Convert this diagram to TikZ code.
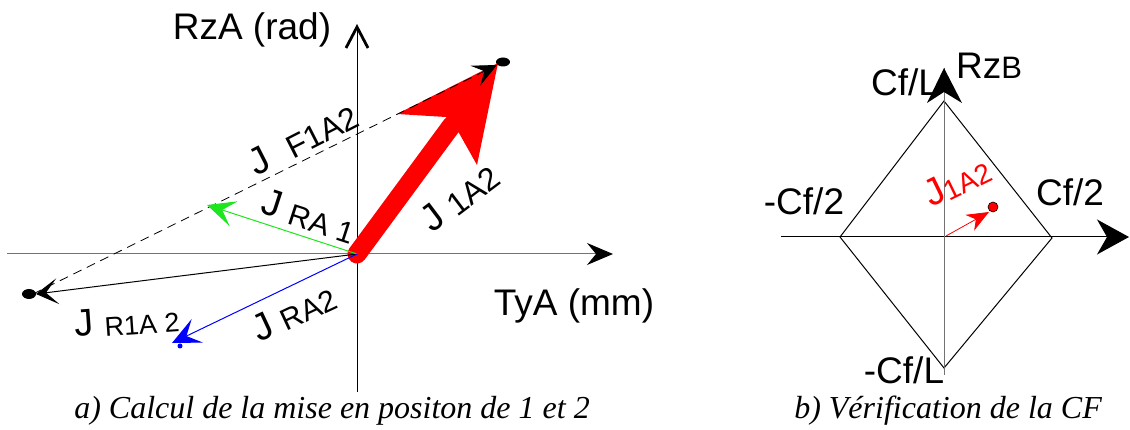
\documentclass[tikz,border=0pt]{standalone}
\usepackage{fontspec}
\setmainfont{Liberation Serif}
\newfontfamily\arialf{Liberation Sans}
\usetikzlibrary{arrows.meta}
\newcommand\jsub[2][30]{\raisebox{-2pt}{\fontsize{#1}{#1}\selectfont #2}}
\begin{document}
\begin{tikzpicture}[x=1pt,y=-1pt,
  lab/.style={font=\arialf\fontsize{37}{37}\selectfont, inner sep=0pt},
  jlab/.style={font=\arialf\fontsize{38}{38}\selectfont, inner sep=0pt},
  captxt/.style={font=\itshape\fontsize{32}{32}\selectfont, inner sep=0pt, anchor=base},
  fine/.style={line width=1pt},
  vec/.style={line width=1pt, -{Stealth[length=#1,width=26pt,inset=12pt]}},
  vec/.default=26pt,
]
\useasboundingbox (0,0) rectangle (1130,430);
% ---------- left diagram ----------
\coordinate (O) at (357,254);
\coordinate (yb) at (357,392);
\coordinate (yt) at (357,27);
\coordinate (ywl) at (346,48);
\coordinate (ywr) at (368,48);
\coordinate (xl) at (7,254);
\coordinate (xr) at (613,254);
\draw[fine, gray!90!black, -{Stealth[length=26pt,width=22pt,inset=9pt,color=black]}] (xl) -- (xr);
\draw[fine] (yb) -- (yt);
\draw[line width=2.8pt, line join=miter] (ywl) -- (yt) -- (ywr);
\node[lab] (rza) at (252,30) {RzA (rad)};
\node[lab] (tya) at (574,306) {TyA (mm)};
% red vector
\coordinate (rs) at (452,125);
\coordinate (rt) at (498,63);
\coordinate (rwl) at (397,114);
\coordinate (rnl) at (446,117);
\coordinate (rnr) at (459,133);
\coordinate (rwr) at (477,165);
\draw[red, line width=19pt, line cap=round] (O) -- (rs);
\fill[red] (rt) -- (rwl) -- (rnl) -- (rnr) -- (rwr) -- cycle;
% black resultant and dots
\coordinate (L) at (33,294);
\coordinate (bt) at (36,294);
\coordinate (dt) at (497,65);
\draw[line width=0.8pt, dash pattern=on 9pt off 6pt, -{Stealth[length=24pt,width=22pt,inset=10pt]}] (L) -- (dt);
\fill (503,62) ellipse [x radius=7, y radius=4.5];
\draw[vec=22pt] (O) -- (bt);
\fill (29,294) ellipse [x radius=7, y radius=5];
% green
\coordinate (gt) at (207,205);
\draw[vec=28pt, color={rgb,255:red,30;green,230;blue,30}] (O) -- (gt);
% blue
\coordinate (bl) at (172,343);
\draw[vec=28pt, blue] (O) -- (bl);
\fill[blue] (180,346) circle (2.5);
% labels
\node[jlab, rotate=27] (jf) at (303,139) {J\ \ \jsub[32]{F1A2}};
\node[jlab, rotate=-18] (jra1) at (309,216) {J\ \jsub{RA\ 1}};
\node[jlab, rotate=4] (jr1a2) at (127,321) {J\ \jsub[27]{R1A 2}};
\node[jlab, rotate=25] (jra2) at (294,313) {J\ \jsub{RA2}};
\node[jlab, rotate=37] (j1a2) at (460,198) {J\ \jsub[32]{1A2}};
\node[captxt] (capa) at (332,418) {a) Calcul de la mise en positon de 1 et 2};
% ---------- right diagram ----------
\coordinate (P) at (944,237);
\coordinate (pl) at (781,237);
\coordinate (pr) at (1129,237);
\coordinate (pb) at (944,375);
\coordinate (pt) at (944,68);
\coordinate (dT) at (944,101);
\coordinate (dR) at (1052,238);
\coordinate (dB) at (944,368);
\coordinate (dL) at (840,237);
\draw[fine] (dT) -- (dR) -- (dB) -- (dL) -- cycle;
\node[lab] (cfl) at (905,82) {Cf/L};
\node[lab, anchor=west] (rzb) at (956,66) {Rz\fontsize{31}{31}\selectfont B};
\node[lab] (mcf2) at (804,201) {-Cf/2};
\node[lab] (cf2) at (1070,192) {Cf/2};
\node[lab] (mcfl) at (904,370) {-Cf/L};
\draw[fine, -{Stealth[length=32pt,width=35pt,inset=10pt]}] (pl) -- (pr);
\draw[fine, gray!90!black] (pb) -- (pt);
\fill (pt) -- (927,103) -- (944,92) -- (962,103) -- cycle;
\coordinate (rat) at (989,212);
\draw[red, line width=0.8pt, -{Stealth[length=22pt,width=18pt,inset=7pt]}] (946,236) -- (rat);
\draw[fill=red, line width=0.6pt] (993,207) circle (5);
\node[jlab, red, rotate=26] (jr) at (957,182) {J\jsub[28]{1A2}};
\node[captxt] (capb) at (948,418) {b) Vérification de la CF};
\end{tikzpicture}
\end{document}
